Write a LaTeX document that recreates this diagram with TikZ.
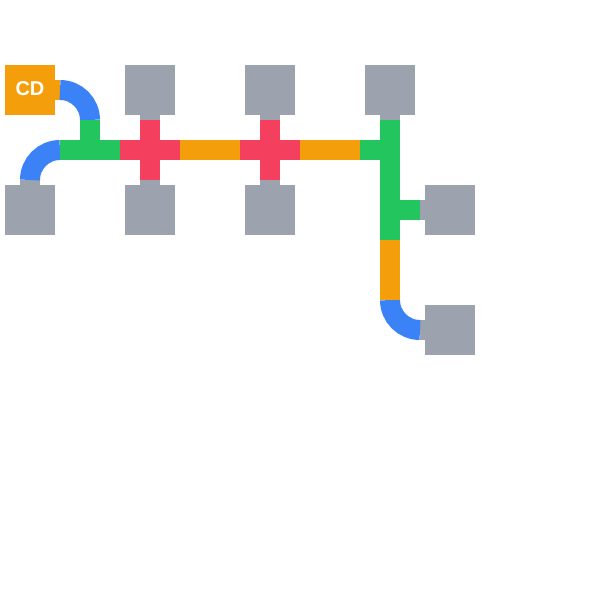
\documentclass[tikz,border=0pt]{standalone}
\usepackage{fontspec}
\setmainfont{Liberation Sans}
\definecolor{pipegrey}{HTML}{9CA3AF}
\definecolor{pipeorange}{HTML}{F59E0B}
\definecolor{pipeblue}{HTML}{3B82F6}
\definecolor{pipegreen}{HTML}{22C55E}
\definecolor{pipered}{HTML}{F43F5E}
\tikzset{
  box/.style={fill=pipegrey, minimum size=50pt, inner sep=0pt, outer sep=0pt},
  pipe/.style={line width=20pt, line cap=butt},
  stub/.style={pipe, draw=pipegrey},
  cable/.style={pipe, draw=pipeorange},
  elbow/.style={pipe, draw=pipeblue},
  tee/.style={pipe, draw=pipegreen},
  plus/.style={pipe, draw=pipered}
}
\begin{document}
\begin{tikzpicture}[x=1pt,y=-1pt]
\useasboundingbox (0,0) rectangle (600,600);
\node[box, fill=pipeorange, text=white, font=\bfseries\fontsize{20}{20}\selectfont] (cd) at (30,90) {\raisebox{2pt}{CD}};
\node[box] (top1) at (150,90) {};
\node[box] (top2) at (270,90) {};
\node[box] (top3) at (390,90) {};
\node[box] (low0) at (30,210) {};
\node[box] (low1) at (150,210) {};
\node[box] (low2) at (270,210) {};
\node[box] (right1) at (450,210) {};
\node[box] (right2) at (450,330) {};
% junctions
\coordinate (cdend) at (60,90);
\coordinate (teeup) at (90,120);
\coordinate (teeleft) at (60,150);
\coordinate (teemid) at (90,150);
\coordinate (plus1w) at (120,150);
\coordinate (plus1e) at (180,150);
\coordinate (plus1n) at (150,120);
\coordinate (plus1s) at (150,180);
\coordinate (plus2w) at (240,150);
\coordinate (plus2e) at (300,150);
\coordinate (plus2n) at (270,120);
\coordinate (plus2s) at (270,180);
\coordinate (teeleft2) at (360,150);
\coordinate (teemid2) at (390,150);
\coordinate (teeup2) at (390,120);
\coordinate (teelow2) at (390,240);
\coordinate (teemid3) at (390,210);
\coordinate (teeright3) at (420,210);
\coordinate (elbowtop) at (390,300);
\coordinate (elbowend) at (420,330);
\coordinate (low0end) at (30,180);
% stubs
\draw[cable] (cd.east) -- (cdend);
\draw[stub] (top1.south) -- (plus1n);
\draw[stub] (top2.south) -- (plus2n);
\draw[stub] (top3.south) -- (teeup2);
\draw[stub] (low0.north) -- (low0end);
\draw[stub] (low1.north) -- (plus1s);
\draw[stub] (low2.north) -- (plus2s);
\draw[stub] (right1.west) -- (teeright3);
\draw[stub] (right2.west) -- (elbowend);
% elbows
\draw[elbow] (cdend) .. controls +(16.6,0) and +(0,-16.6) .. (teeup);
\draw[elbow] (teeleft) .. controls +(-16.6,0) and +(0,-16.6) .. (low0end);
\draw[elbow] (elbowtop) .. controls +(0,16.6) and +(-16.6,0) .. (elbowend);
% straight runs
\draw[tee] (teeleft) -- (plus1w);
\draw[tee] (teeup) -- (teemid);
\draw[plus] (plus1w) -- (plus1e);
\draw[plus] (plus1n) -- (plus1s);
\draw[cable] (plus1e) -- (plus2w);
\draw[plus] (plus2w) -- (plus2e);
\draw[plus] (plus2n) -- (plus2s);
\draw[cable] (plus2e) -- (teeleft2);
\draw[tee] (teeleft2) -- (teemid2);
\draw[tee] (teeup2) -- (teelow2);
\draw[tee] (teemid3) -- (teeright3);
\draw[cable] (teelow2) -- (elbowtop);
\end{tikzpicture}
\end{document}
